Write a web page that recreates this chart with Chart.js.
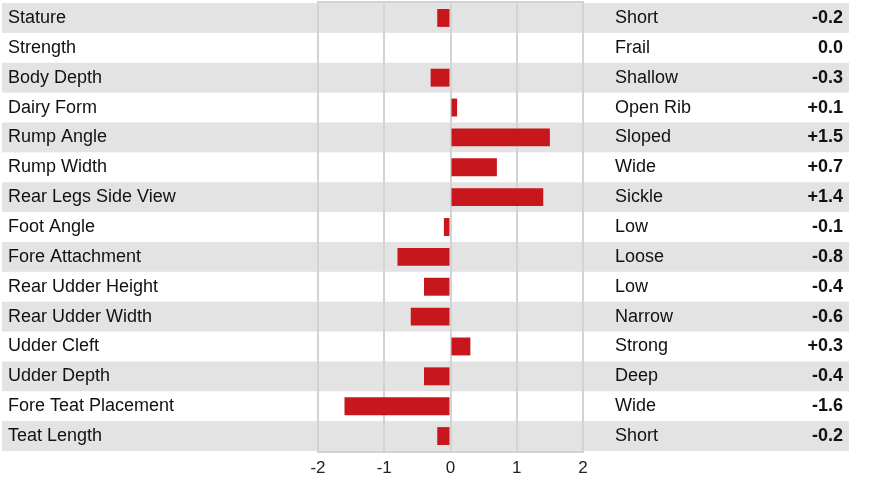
<!DOCTYPE html>
<html>
<head>
<meta charset="utf-8">
<script src="https://cdn.jsdelivr.net/npm/chart.js@4"></script>
<style>
  body { margin: 0; background: #fff; }
  #wrap { width: 869px; height: 481px; }
</style>
</head>
<body>
<div id="wrap"><canvas id="chart" width="869" height="481"></canvas></div>
<script>
const traits = ["Stature", "Strength", "Body Depth", "Dairy Form", "Rump Angle", "Rump Width",
  "Rear Legs Side View", "Foot Angle", "Fore Attachment", "Rear Udder Height", "Rear Udder Width",
  "Udder Cleft", "Udder Depth", "Fore Teat Placement", "Teat Length"];
const opposites = ["Short", "Frail", "Shallow", "Open Rib", "Sloped", "Wide", "Sickle", "Low",
  "Loose", "Low", "Narrow", "Strong", "Deep", "Wide", "Short"];
const values = [-0.2, 0.0, -0.3, 0.1, 1.5, 0.7, 1.4, -0.1, -0.8, -0.4, -0.6, 0.3, -0.4, -1.6, -0.2];
const xTicks = [-2, -1, 0, 1, 2];

const valueLabels = values.map(v => (v > 0 ? "+" : "") + v.toFixed(1));
const font = "'Liberation Sans', Arial, Helvetica, sans-serif";
const lineColor = "#d3d3d3";

// axes must not add their own top/bottom padding
const fitTo = w => s => {
  s.width = w;
  s.paddingTop = 0;
  s.paddingBottom = 0;
};

// grey bands behind every other row, across the whole width
const bands = {
  id: "bands",
  beforeDraw(chart) {
    const c = chart.ctx, y = chart.scales.y, area = chart.chartArea;
    const h = (area.bottom - area.top) / traits.length;
    c.save();
    c.fillStyle = "#e3e3e3";
    traits.forEach((t, i) => {
      if (i % 2) return;
      c.fillRect(2, y.getPixelForValue(i) - h / 2, 847, h);
    });
    c.restore();
  },
  beforeDatasetsDraw(chart) {
    const c = chart.ctx, a = chart.chartArea;
    c.save();
    c.strokeStyle = lineColor;
    c.lineWidth = 2;
    c.strokeRect(a.left, a.top - 1, a.right - a.left, a.bottom - a.top + 2);
    c.restore();
  }
};

new Chart(document.getElementById("chart"), {
  type: "bar",
  data: {
    labels: traits,
    datasets: [{
      data: values,
      backgroundColor: "#c8161d",
      borderWidth: 0,
      categoryPercentage: 1,
      barPercentage: 0.6
    }]
  },
  options: {
    indexAxis: "y",
    responsive: false,
    animation: false,
    layout: { padding: { left: 8, right: 26, top: 3, bottom: 4 } },
    plugins: { legend: { display: false }, tooltip: { enabled: false } },
    scales: {
      x: {
        min: xTicks[0],
        max: xTicks[xTicks.length - 1],
        afterBuildTicks: s => { s.ticks = xTicks.map(v => ({ value: v })); },
        afterFit: s => { s.height = 26; },
        grid: { color: lineColor, lineWidth: 2, drawTicks: false },
        border: { display: false },
        ticks: { color: "#222", font: { family: font, size: 17 }, padding: 7 }
      },
      y: {
        position: "left",
        offset: true,
        grid: { display: false },
        border: { display: false },
        afterFit: fitTo(310),
        ticks: { crossAlign: "far", color: "#111", font: { family: font, size: 18 } }
      },
      y2: {
        type: "category",
        position: "right",
        labels: opposites,
        offset: true,
        weight: 0,
        grid: { display: false, drawTicks: false },
        border: { display: false },
        afterFit: fitTo(160),
        ticks: { crossAlign: "near", padding: 32, color: "#111", font: { family: font, size: 18 } }
      },
      y3: {
        type: "category",
        position: "right",
        labels: valueLabels,
        offset: true,
        weight: 1,
        grid: { display: false, drawTicks: false },
        border: { display: false },
        afterFit: fitTo(100),
        ticks: { crossAlign: "far", color: "#111", font: { family: font, size: 18, weight: "bold" } }
      }
    }
  },
  plugins: [bands]
});
</script>
</body>
</html>
